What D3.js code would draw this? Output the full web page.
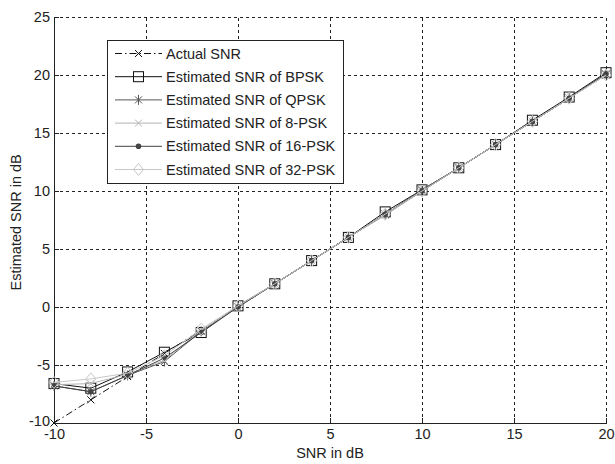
<!DOCTYPE html>
<html>
<head>
<meta charset="utf-8">
<script src="https://cdn.jsdelivr.net/npm/d3@7"></script>
<style>
  body { margin: 0; background: #fff; }
  text { font-family: "Liberation Sans", Arial, sans-serif; fill: #222; }
</style>
</head>
<body>
<div id="chart"></div>
<script>
// data
var snr    = [-10, -8, -6, -4, -2, 0, 2, 4, 6, 8, 10, 12, 14, 16, 18, 20];
var actual = [-10, -8, -6, -4, -2, 0, 2, 4, 6, 8, 10, 12, 14, 16, 18, 20];
var bpsk   = [-6.6, -7.0, -5.6, -3.9, -2.2, 0.1, 2.0, 4.0, 6.0, 8.2, 10.1, 12.0, 14.0, 16.1, 18.1, 20.2];
var qpsk   = [-6.8, -7.3, -5.9, -4.7, -2.1, 0.0, 2.0, 4.0, 6.0, 8.0, 10.1, 12.0, 14.0, 16.0, 18.0, 20.1];
var psk8   = [-6.7, -6.6, -5.8, -4.6, -2.0, 0.0, 2.0, 4.0, 6.0, 7.9, 10.0, 12.0, 14.0, 16.0, 18.0, 20.0];
var psk16  = [-6.8, -7.3, -5.9, -4.4, -2.2, 0.0, 2.0, 4.0, 6.0, 8.0, 10.0, 12.0, 14.0, 16.0, 18.0, 20.1];
var psk32  = [-6.5, -6.2, -5.7, -4.2, -1.9, 0.1, 2.0, 4.0, 6.0, 8.0, 10.0, 12.0, 14.0, 16.0, 18.0, 20.0];

var xTicks = [-10, -5, 0, 5, 10, 15, 20];
var yTicks = [-10, -5, 0, 5, 10, 15, 20, 25];

var seriesNames = ["Actual SNR", "Estimated SNR of BPSK", "Estimated SNR of QPSK",
                   "Estimated SNR of 8-PSK", "Estimated SNR of 16-PSK", "Estimated SNR of 32-PSK"];
var seriesValues = [actual, bpsk, qpsk, psk8, psk16, psk32];

var styles = [
  { color: "#111", dash: "7,3,1.5,3", marker: "x" },
  { color: "#111", dash: null, marker: "square" },
  { color: "#555", dash: null, marker: "star" },
  { color: "#b4b4b4", dash: null, marker: "x" },
  { color: "#444", dash: null, marker: "dot" },
  { color: "#c8c8c8", dash: null, marker: "diamond" }
];

var w = 615, h = 464;
var margin = { left: 54, top: 17, right: 9, bottom: 41 };
var fontSize = 14.5;

var svg = d3.select("body div#chart").append("svg")
    .attr("width", w)
    .attr("height", h);

var x = d3.scaleLinear().domain([-10, 20]).range([margin.left, w - margin.right]);
var y = d3.scaleLinear().domain([-10, 25]).range([h - margin.bottom, margin.top]);

// grid
var grid = svg.append("g").attr("stroke", "#222").attr("stroke-width", 1)
  .attr("stroke-dasharray", "3,3").attr("shape-rendering", "crispEdges");
grid.selectAll("line.gx").data(xTicks.slice(1)).enter().append("line")
  .attr("x1", function(d) { return x(d); }).attr("x2", function(d) { return x(d); })
  .attr("y1", y(-10)).attr("y2", y(25));
grid.selectAll("line.gy").data(yTicks.slice(1)).enter().append("line")
  .attr("y1", function(d) { return y(d); }).attr("y2", function(d) { return y(d); })
  .attr("x1", x(-10)).attr("x2", x(20));

// axes, ticks pointing inward, plain hyphen minus like the original
var fmt = function(d) { return String(d); };
var xAxis = svg.append("g")
  .attr("transform", "translate(0," + y(-10) + ")")
  .call(d3.axisBottom(x).tickValues(xTicks).tickFormat(fmt).tickSizeInner(-5).tickSizeOuter(0).tickPadding(6));
var yAxis = svg.append("g")
  .attr("transform", "translate(" + x(-10) + ",0)")
  .call(d3.axisLeft(y).tickValues(yTicks).tickFormat(fmt).tickSizeInner(-5).tickSizeOuter(0).tickPadding(4));
[xAxis, yAxis].forEach(function(a) {
  a.select(".domain").attr("stroke", "#222").attr("shape-rendering", "crispEdges");
  a.selectAll(".tick line").attr("stroke", "#222");
  a.selectAll("text").attr("font-size", fontSize).attr("fill", "#222")
    .attr("font-family", "Liberation Sans, Arial, sans-serif");
});
// lowest y label sits a touch higher so it clears the x label below it
yAxis.selectAll(".tick").filter(function(d) { return d === -10; }).select("text").attr("dy", "0.2em");

svg.append("text").attr("x", x(5)).attr("y", 458).attr("text-anchor", "middle")
  .attr("font-size", fontSize).text("SNR in dB");
svg.append("text").attr("transform", "translate(21," + y(7.3) + ") rotate(-90)")
  .attr("text-anchor", "middle").attr("font-size", fontSize).text("Estimated SNR in dB");

function drawMarker(g, type, cx, cy, color) {
  if (type === "x") {
    g.append("path").attr("d", "M" + (cx - 3.5) + "," + (cy - 3.5) + "L" + (cx + 3.5) + "," + (cy + 3.5) +
      "M" + (cx - 3.5) + "," + (cy + 3.5) + "L" + (cx + 3.5) + "," + (cy - 3.5))
      .attr("stroke", color).attr("fill", "none");
  } else if (type === "square") {
    g.append("rect").attr("x", cx - 5).attr("y", cy - 5).attr("width", 10).attr("height", 10)
      .attr("stroke", color).attr("fill", "none");
  } else if (type === "star") {
    g.append("path").attr("d", "M" + cx + "," + (cy - 5) + "L" + cx + "," + (cy + 5) +
      "M" + (cx - 3.5) + "," + (cy - 3.5) + "L" + (cx + 3.5) + "," + (cy + 3.5) +
      "M" + (cx - 3.5) + "," + (cy + 3.5) + "L" + (cx + 3.5) + "," + (cy - 3.5))
      .attr("stroke", color).attr("fill", "none");
  } else if (type === "dot") {
    g.append("circle").attr("cx", cx).attr("cy", cy).attr("r", 2.8).attr("fill", color);
  } else if (type === "diamond") {
    g.append("path").attr("d", "M" + cx + "," + (cy - 6) + "L" + (cx + 5) + "," + cy +
      "L" + cx + "," + (cy + 6) + "L" + (cx - 5) + "," + cy + "Z")
      .attr("stroke", color).attr("fill", "none");
  }
}

var line = d3.line()
  .x(function(d) { return x(d[0]); })
  .y(function(d) { return y(d[1]); });

seriesValues.forEach(function(vals, i) {
  var st = styles[i];
  var pts = snr.map(function(s, j) { return [s, vals[j]]; });
  var g = svg.append("g");
  g.append("path").datum(pts).attr("d", line)
    .attr("fill", "none").attr("stroke", st.color).attr("stroke-width", 1)
    .attr("stroke-dasharray", st.dash);
  pts.forEach(function(p) { drawMarker(g, st.marker, x(p[0]), y(p[1]), st.color); });
});

// legend
var lg = svg.append("g");
lg.append("rect").attr("x", 107.5).attr("y", 40.5).attr("width", 236).attr("height", 143)
  .attr("fill", "#fff").attr("stroke", "#222");
seriesNames.forEach(function(name, i) {
  var st = styles[i];
  var ly = 53.5 + i * 23.2;
  lg.append("line").attr("x1", 115).attr("x2", 162).attr("y1", ly).attr("y2", ly)
    .attr("stroke", st.color).attr("stroke-dasharray", st.dash);
  drawMarker(lg, st.marker, 138.5, ly, st.color);
  lg.append("text").attr("x", 166).attr("y", ly + 5).attr("font-size", fontSize).text(name);
});
</script>
</body>
</html>
